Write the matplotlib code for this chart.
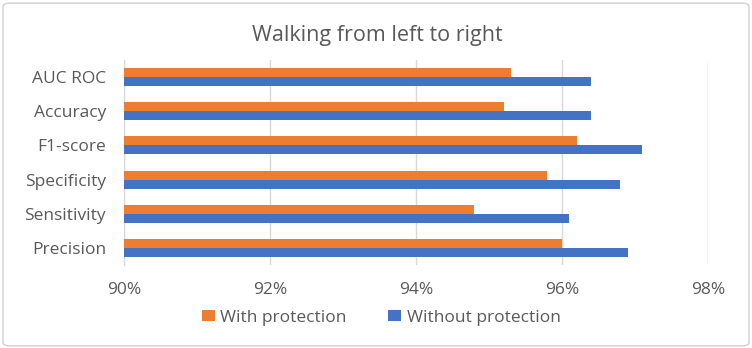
import numpy as np
import matplotlib.pyplot as plt
from matplotlib.patches import FancyBboxPatch
from matplotlib.ticker import FuncFormatter

categories = ['Precision', 'Sensitivity', 'Specificity', 'F1-score', 'Accuracy', 'AUC ROC']
with_protection = [96.0, 94.8, 95.8, 96.2, 95.2, 95.3]
without_protection = [96.9, 96.1, 96.8, 97.1, 96.4, 96.4]

plt.rcParams['font.family'] = ['Open Sans', 'DejaVu Sans']
text_color = '#595959'

fig = plt.figure(figsize=(7.52, 3.48), dpi=100)
fig.patches.append(FancyBboxPatch((0.004, 0.006), 0.992, 0.985, boxstyle='round,pad=0,rounding_size=0.01',
                                  transform=fig.transFigure, fill=False, edgecolor='#d0d0d0', linewidth=1))
ax = fig.add_axes([0.165, 0.2385, 0.7765, 0.589])

y = np.arange(len(categories))
h = 0.265
ax.barh(y + h / 2, with_protection, height=h, color='#ED7D31', label='With protection', zorder=3)
ax.barh(y - h / 2, without_protection, height=h, color='#4472C4', label='Without protection', zorder=3)

ax.set_xlim(90, 98)
ax.set_ylim(-0.5, 5.5)
ax.set_xticks([90, 92, 94, 96, 98])
ax.xaxis.set_major_formatter(FuncFormatter(lambda v, p: f'{v:.0f}%'))
ax.set_yticks(y)
ax.set_yticklabels(categories)
ax.tick_params(axis='both', length=0, labelsize=12.5, colors=text_color)
ax.tick_params(axis='x', pad=12)
ax.tick_params(axis='y', pad=13)
ax.grid(axis='x', color='#d9d9d9', linewidth=1, zorder=0)
for s in ['top', 'right', 'bottom']:
    ax.spines[s].set_visible(False)
ax.spines['left'].set_color('#d9d9d9')

fig.text(0.502, 1 - 41 / 348, 'Walking from left to right', ha='center', va='baseline', fontsize=15.5, color=text_color)
fig.legend(loc='center', bbox_to_anchor=(0.507, 0.086), ncol=2, frameon=False, fontsize=12.5,
           handlelength=0.75, handleheight=0.6, handletextpad=0.3, columnspacing=2.4, labelcolor=text_color)

fig.savefig('out.png', dpi=100)
